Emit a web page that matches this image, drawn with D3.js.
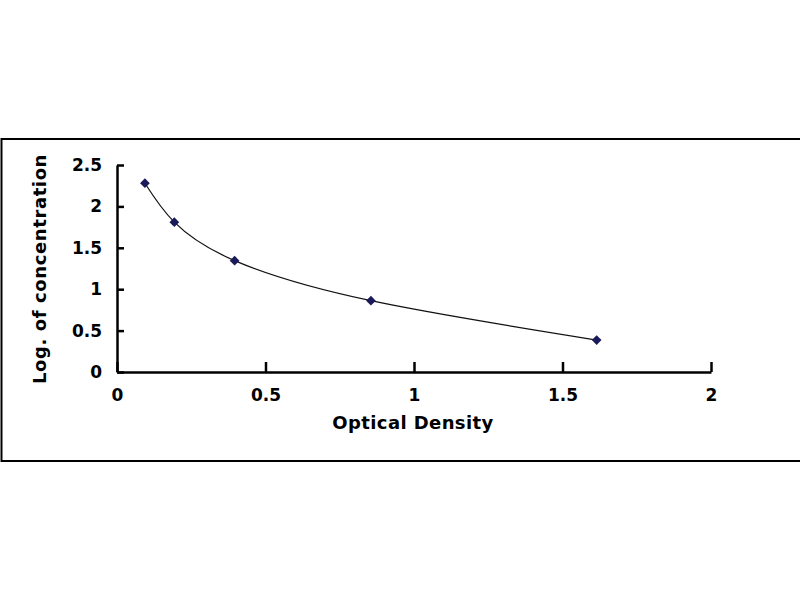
<!DOCTYPE html>
<html><head><meta charset="utf-8">
<script src="https://cdn.jsdelivr.net/npm/d3@7"></script>
<style>body{margin:0;background:#fff}svg{display:block}</style>
</head><body>
<script>
const odValues = [0.094, 0.193, 0.396, 0.855, 1.615];
const logConc = [2.28, 1.81, 1.345, 0.861, 0.386];
const xTicks = [0, 0.5, 1, 1.5, 2];
const yTicks = [0, 0.5, 1, 1.5, 2, 2.5];

const svg = d3.select("body").append("svg").attr("width",800).attr("height",600);
svg.append("rect").attr("width",800).attr("height",600).attr("fill","#fff");
// outer frame
svg.append("rect").attr("x",1.5).attr("y",139).attr("width",820).attr("height",322)
  .attr("fill","none").attr("stroke","#000").attr("stroke-width",2);

const x = d3.scaleLinear().domain([0,2]).range([117,711]);
const y = d3.scaleLinear().domain([0,2.5]).range([372,165]);
const font = "'DejaVu Sans', sans-serif";

const gx = svg.append("g").attr("transform","translate(0,372)")
  .call(d3.axisBottom(x).tickValues(xTicks).tickSizeInner(-10).tickSizeOuter(0).tickPadding(17).tickFormat(d3.format("")));
const gy = svg.append("g").attr("transform","translate(117,0)")
  .call(d3.axisLeft(y).tickValues(yTicks).tickSizeInner(-7).tickSizeOuter(0).tickPadding(15).tickFormat(d3.format("")));
[gx,gy].forEach(g=>{
  g.select(".domain").attr("stroke","#000").attr("stroke-width",2.5);
  g.selectAll(".tick line").attr("stroke","#000").attr("stroke-width",2.5);
  g.selectAll("text").attr("font-family",font).attr("font-weight","bold").attr("font-size",17).attr("fill","#000");
});

const pts = odValues.map((v,i)=>[v,logConc[i]]);
svg.append("path").datum(pts)
  .attr("d", d3.line().x(d=>x(d[0])).y(d=>y(d[1])).curve(d3.curveNatural))
  .attr("fill","none").attr("stroke","#111").attr("stroke-width",1.2);

svg.selectAll(".pt").data(pts).enter().append("path")
  .attr("transform",d=>`translate(${x(d[0])},${y(d[1])})`)
  .attr("d", d3.symbol().type(d3.symbolDiamond2).size(60))
  .attr("fill","#1a1a5a");

svg.append("text").attr("x",413).attr("y",429).attr("text-anchor","middle")
  .attr("font-family",font).attr("font-weight","bold").attr("font-size",18).attr("letter-spacing",0.4).text("Optical Density");
svg.append("text").attr("transform","translate(46,269) rotate(-90)").attr("text-anchor","middle")
  .attr("font-family",font).attr("font-weight","bold").attr("font-size",18).attr("letter-spacing",0.6).text("Log. of concentration");
</script>
</body></html>
